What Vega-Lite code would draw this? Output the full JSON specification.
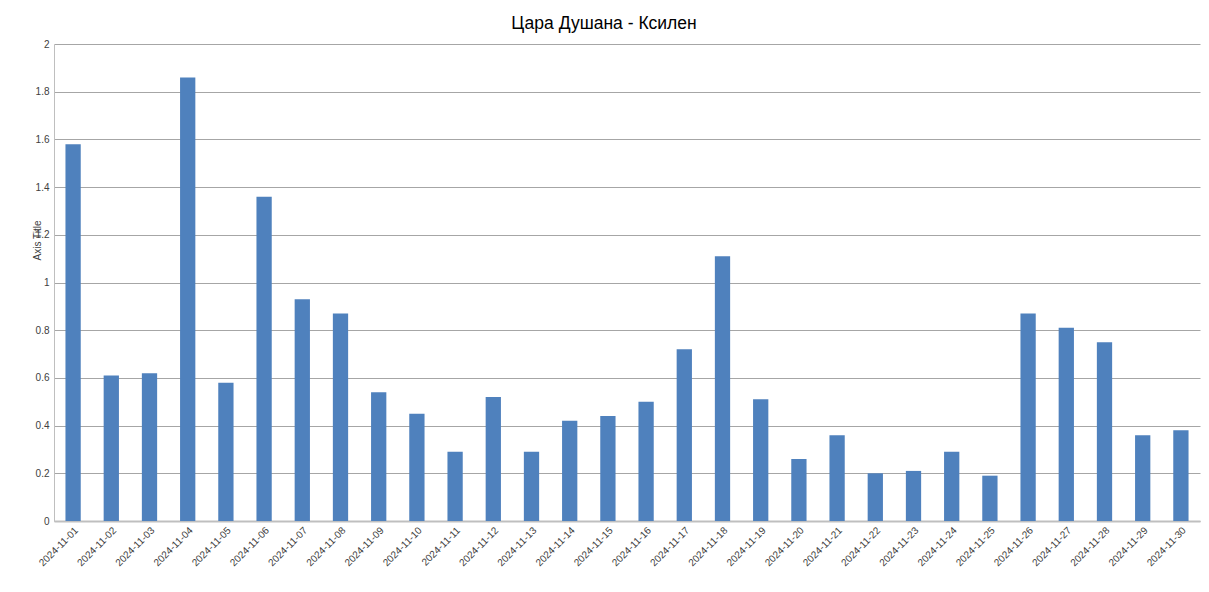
{
  "$schema": "https://vega.github.io/schema/vega-lite/v6.json",
  "width": 1146,
  "height": 477,
  "autosize": {"type": "none"},
  "padding": {"left": 54, "top": 44, "right": 9, "bottom": 71},
  "background": "white",
  "title": {
    "text": "Цара Душана - Ксилен",
    "font": "Liberation Sans",
    "fontSize": 17.5,
    "fontWeight": "normal",
    "color": "#000000",
    "offset": 13,
    "dx": -23,
    "dy": 6,
    "anchor": "middle"
  },
  "data": {
    "values": [
      {"date": "2024-11-01", "value": 1.58},
      {"date": "2024-11-02", "value": 0.61},
      {"date": "2024-11-03", "value": 0.62},
      {"date": "2024-11-04", "value": 1.86},
      {"date": "2024-11-05", "value": 0.58},
      {"date": "2024-11-06", "value": 1.36},
      {"date": "2024-11-07", "value": 0.93},
      {"date": "2024-11-08", "value": 0.87},
      {"date": "2024-11-09", "value": 0.54},
      {"date": "2024-11-10", "value": 0.45},
      {"date": "2024-11-11", "value": 0.29},
      {"date": "2024-11-12", "value": 0.52},
      {"date": "2024-11-13", "value": 0.29},
      {"date": "2024-11-14", "value": 0.42},
      {"date": "2024-11-15", "value": 0.44},
      {"date": "2024-11-16", "value": 0.50},
      {"date": "2024-11-17", "value": 0.72},
      {"date": "2024-11-18", "value": 1.11},
      {"date": "2024-11-19", "value": 0.51},
      {"date": "2024-11-20", "value": 0.26},
      {"date": "2024-11-21", "value": 0.36},
      {"date": "2024-11-22", "value": 0.20},
      {"date": "2024-11-23", "value": 0.21},
      {"date": "2024-11-24", "value": 0.29},
      {"date": "2024-11-25", "value": 0.19},
      {"date": "2024-11-26", "value": 0.87},
      {"date": "2024-11-27", "value": 0.81},
      {"date": "2024-11-28", "value": 0.75},
      {"date": "2024-11-29", "value": 0.36},
      {"date": "2024-11-30", "value": 0.38}
    ]
  },
  "mark": {"type": "bar", "color": "#4F81BD"},
  "encoding": {
    "x": {
      "field": "date",
      "type": "ordinal",
      "sort": null,
      "scale": {"paddingInner": 0.6, "paddingOuter": 0.3},
      "axis": {
        "title": null,
        "labelAngle": -45,
        "labelAlign": "right",
        "labelBaseline": "top",
        "labelFont": "Liberation Sans",
        "labelFontSize": 10,
        "labelColor": "#404040",
        "labelPadding": 4,
        "ticks": false,
        "domainColor": "#bfbfbf",
        "domainWidth": 2,
        "grid": false
      }
    },
    "y": {
      "field": "value",
      "type": "quantitative",
      "scale": {"domain": [0, 2], "nice": false},
      "axis": {
        "title": "Axis Title",
        "titleFont": "Liberation Sans",
        "titleFontSize": 10,
        "titleFontWeight": "normal",
        "titleColor": "#404040",
        "titleAngle": -90,
        "titleX": -17,
        "titleY": 196,
        "titleAlign": "center",
        "titleBaseline": "middle",
        "values": [0, 0.2, 0.4, 0.6, 0.8, 1, 1.2, 1.4, 1.6, 1.8, 2],
        "format": "~g",
        "labelFont": "Liberation Sans",
        "labelFontSize": 10,
        "labelColor": "#404040",
        "labelPadding": 5,
        "ticks": false,
        "domainColor": "#bfbfbf",
        "domainWidth": 1,
        "grid": true,
        "gridColor": "#a6a6a6",
        "gridWidth": 1
      }
    }
  },
  "config": {"view": {"stroke": null}}
}
